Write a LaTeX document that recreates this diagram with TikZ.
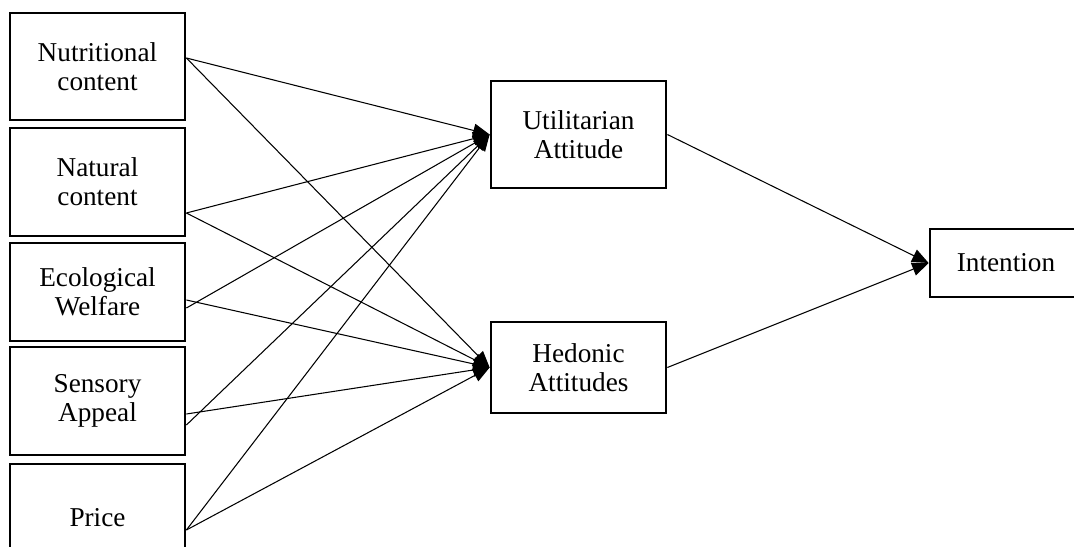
\documentclass[tikz,border=0pt]{standalone}
\usepackage{fontspec}
\setmainfont{Liberation Serif}
\usetikzlibrary{arrows.meta,positioning}

\begin{document}
\begin{tikzpicture}[x=0.02cm,y=-0.02cm,>={Triangle[length=3.3mm,width=2.7mm]},
box/.style={draw, line width=1.6pt, align=center, inner sep=0pt, minimum width=3.5cm, font=\fontsize{15.5}{16.5}\selectfont}]
\useasboundingbox (0,0) rectangle (1074,547);
\node[box, minimum height=2.14cm] (nut) at (97.5,66.5) {Nutritional\\content};
\node[box, minimum height=2.16cm] (nat) at (97.5,182) {Natural\\content};
\node[box, minimum height=1.96cm] (eco) at (97.5,292) {Ecological\\Welfare};
\node[box, minimum height=2.16cm] (sen) at (97.5,401) {Sensory\\Appeal};
\node[box, minimum height=2.16cm] (pri) at (97.5,518) {Price};
\node[box, minimum height=2.14cm] (uti) at (578.5,134.5) {Utilitarian\\Attitude};
\node[box, minimum height=1.82cm] (hed) at (578.5,367.5) {Hedonic\\Attitudes};
\node[box, minimum width=3.04cm, minimum height=1.36cm] (int) at (1006,263) {Intention};
\begin{scope}[->, line width=0.6pt]
\draw ([yshift=0.17cm]nut.east)--(uti.west);
\draw ([yshift=0.17cm]nut.east)--(hed.west);
\draw ([yshift=-0.62cm]nat.east)--(uti.west);
\draw ([yshift=-0.62cm]nat.east)--(hed.west);
\draw ([yshift=-0.32cm]eco.east)--(uti.west);
\draw ([yshift=-0.16cm]eco.east)--(hed.west);
\draw ([yshift=-0.48cm]sen.east)--(uti.west);
\draw ([yshift=-0.26cm]sen.east)--(hed.west);
\draw ([yshift=-0.24cm]pri.east)--(uti.west);
\draw ([yshift=-0.24cm]pri.east)--(hed.west);
\draw (uti.east)--(int.west);
\draw (hed.east)--(int.west);
\end{scope}
\end{tikzpicture}
\end{document}
